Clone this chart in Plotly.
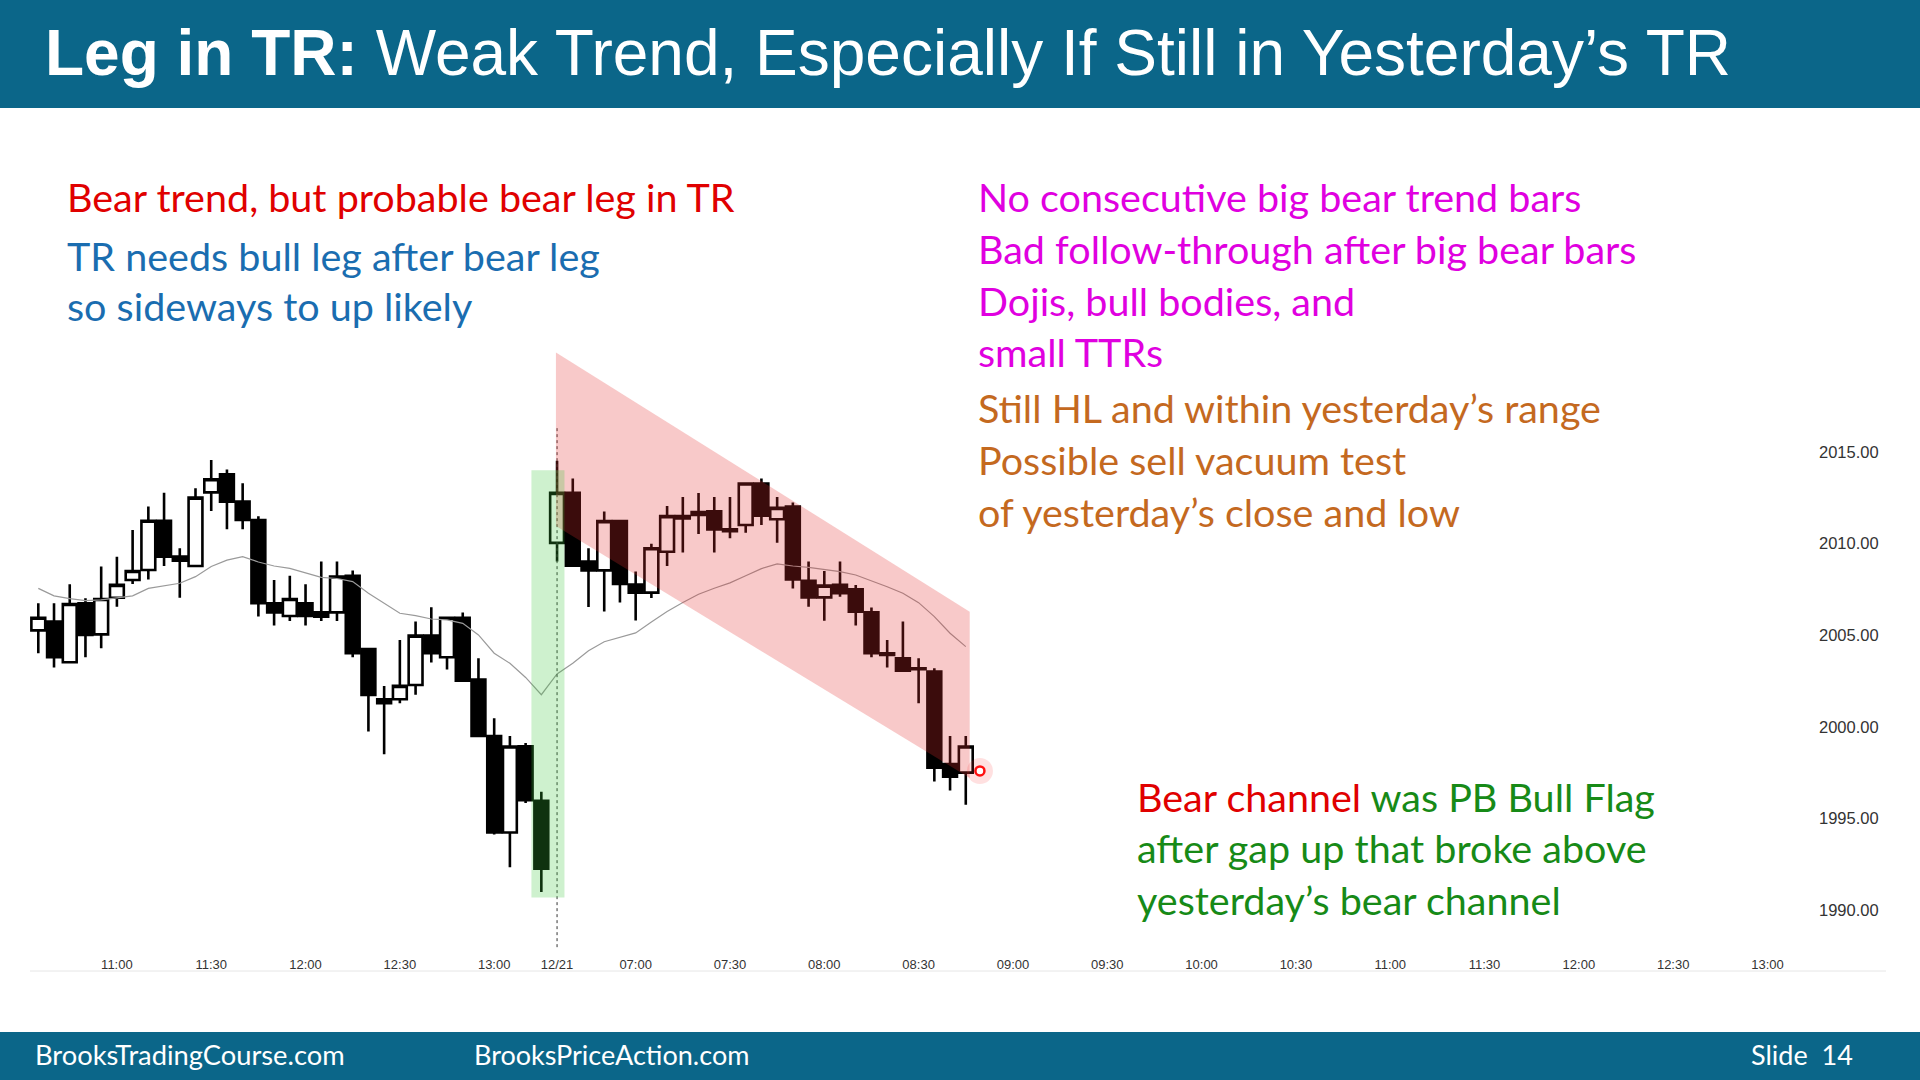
import plotly.graph_objects as go
import pandas as pd

# ---------------- data ----------------
open_ = [2005.27, 2005.75, 2003.53, 2006.75, 2005.05, 2007.05, 2008.02, 2008.56, 2011.25, 2009.29,
         2008.78, 2012.80, 2013.78, 2012.29, 2011.29, 2006.75, 2006.05, 2006.75, 2006.25, 2006.25,
         2008.24, 2004.25, 2001.51, 2001.51, 2002.29, 2004.98, 2003.80, 2005.96, 2002.58, 1999.51,
         1994.24, 1998.95, 1995.97,
         2010.04, 2012.77, 2009.03, 2008.54, 2011.23, 2007.77, 2007.33, 2009.56, 2011.50, 2011.56,
         2011.76, 2010.78, 2011.02, 2013.28, 2011.33, 2012.02, 2007.98, 2007.07, 2007.75, 2007.51,
         2006.25, 2004.02, 2003.75, 2003.20, 2003.02, 1997.98, 1997.51]
high = [2006.75, 2006.75, 2007.78, 2007.02, 2008.75, 2009.29, 2010.75, 2012.02, 2012.78, 2009.75,
        2013.02, 2014.56, 2014.05, 2013.29, 2011.50, 2008.02, 2008.25, 2007.78, 2009.02, 2009.02,
        2008.53, 2004.25, 2002.24, 2004.75, 2005.75, 2006.53, 2005.96, 2006.25, 2003.75, 2000.47,
        1999.51, 1999.13, 1996.46,
        2014.52, 2013.55, 2009.75, 2011.76, 2011.23, 2008.48, 2010.00, 2012.05, 2012.54, 2012.77,
        2012.54, 2012.54, 2013.28, 2013.55, 2012.54, 2012.24, 2009.02, 2008.51, 2009.02, 2007.75,
        2006.51, 2004.75, 2005.75, 2003.75, 2003.20, 1999.51, 1999.51]
low = [2004.02, 2003.25, 2003.50, 2003.80, 2004.29, 2006.56, 2007.80, 2008.05, 2008.78, 2007.05,
       2008.75, 2011.78, 2010.78, 2010.78, 2006.02, 2005.53, 2005.78, 2005.53, 2005.78, 2005.78,
       2003.80, 1999.75, 1998.51, 2001.29, 2001.75, 2003.51, 2003.13, 2002.53, 1999.51, 1994.13,
       1992.35, 1995.85, 1991.00,
       2009.03, 2008.80, 2006.54, 2006.30, 2006.79, 2005.81, 2007.04, 2008.78, 2009.52, 2010.53,
       2009.52, 2010.30, 2010.59, 2011.02, 2010.05, 2007.56, 2006.56, 2005.80, 2007.10, 2005.53,
       2003.80, 2003.25, 2003.07, 2001.29, 1997.02, 1996.53, 1995.75]
close = [2005.96, 2003.80, 2006.71, 2005.02, 2006.98, 2007.75, 2008.51, 2011.25, 2009.29, 2009.07,
         2012.51, 2013.51, 2012.29, 2011.29, 2006.75, 2006.25, 2006.98, 2006.05, 2006.02, 2008.20,
         2004.02, 2001.75, 2001.29, 2002.24, 2004.98, 2004.02, 2005.96, 2002.53, 1999.51, 1994.24,
         1998.93, 1996.00, 1992.27,
         2012.77, 2008.80, 2008.54, 2011.23, 2007.80, 2007.33, 2009.75, 2011.50, 2011.37, 2011.72,
         2010.78, 2010.68, 2013.28, 2011.52, 2011.95, 2008.05, 2007.07, 2007.71, 2007.29, 2006.29,
         2004.02, 2003.93, 2003.07, 2003.15, 1997.78, 1997.29, 1998.93]
moving_avg = [2007.56, 2007.15, 2007.00, 2006.89, 2006.93, 2007.05, 2007.15, 2007.56, 2007.69, 2007.84,
              2008.20, 2008.75, 2009.10, 2009.29, 2009.00, 2008.78, 2008.65, 2008.42, 2008.16, 2008.10,
              2007.93, 2007.29, 2006.75, 2006.20, 2006.07, 2005.89, 2005.84, 2005.65, 2005.02, 2004.02,
              2003.47, 2002.70, 2001.76,
              2002.89, 2003.48, 2004.16, 2004.65, 2004.88, 2005.13, 2005.72, 2006.30, 2006.79, 2007.24,
              2007.57, 2007.86, 2008.25, 2008.64, 2008.90, 2008.78, 2008.71, 2008.60, 2008.47, 2008.29,
              2007.98, 2007.65, 2007.29, 2006.78, 2006.02, 2005.11, 2004.38]

prev_day_slots = ["12/20 " + t.strftime("%H:%M") for t in pd.date_range("2000-01-01 10:35", "2000-01-01 13:15", freq="5min")]
today_slots = ["12/21 " + t.strftime("%H:%M") for t in pd.date_range("2000-01-01 06:35", "2000-01-01 13:00", freq="5min")]
slots = prev_day_slots + today_slots

tick_slots = ["12/20 11:00", "12/20 11:30", "12/20 12:00", "12/20 12:30", "12/20 13:00",
              "12/21 06:35", "12/21 07:00", "12/21 07:30", "12/21 08:00", "12/21 08:30",
              "12/21 09:00", "12/21 09:30", "12/21 10:00", "12/21 10:30", "12/21 11:00",
              "12/21 11:30", "12/21 12:00", "12/21 12:30", "12/21 13:00"]
tick_labels = ["11:00", "11:30", "12:00", "12:30", "13:00", "12/21", "07:00", "07:30", "08:00", "08:30",
               "09:00", "09:30", "10:00", "10:30", "11:00", "11:30", "12:00", "12:30", "13:00"]
price_ticks = [1990, 1995, 2000, 2005, 2010, 2015]

cursor_x = [59.9]
cursor_y = [1997.6]

# ---------------- layout geometry ----------------
W, H = 1920, 1080
PL, PR, PT, PB = 30, 1818, 110, 950   # plot area in pixels


def px(x):
    return (x - PL) / (PR - PL)


def py(y):
    return (PB - y) / (PB - PT)


bar_x = list(range(len(open_)))
tickvals = [slots.index(s) for s in tick_slots]

fig = go.Figure()

fig.add_trace(go.Candlestick(
    x=bar_x, open=open_, high=high, low=low, close=close,
    increasing=dict(line=dict(color="black", width=2.6), fillcolor="white"),
    decreasing=dict(line=dict(color="black", width=2.6), fillcolor="black"),
    whiskerwidth=0, showlegend=False, hoverinfo="skip",
))

fig.add_trace(go.Scatter(
    x=bar_x, y=moving_avg, mode="lines",
    line=dict(color="#9a9a9a", width=1.2), showlegend=False, hoverinfo="skip",
))

# cursor dot
fig.add_trace(go.Scatter(x=cursor_x, y=cursor_y, mode="markers",
                         marker=dict(size=26, color="rgba(255,60,60,0.16)", line=dict(width=0)),
                         showlegend=False, hoverinfo="skip"))
fig.add_trace(go.Scatter(x=cursor_x, y=cursor_y, mode="markers",
                         marker=dict(size=9, color="white", line=dict(color="#ff1010", width=2.5)),
                         showlegend=False, hoverinfo="skip"))

# x range / y range derived from pixel geometry
x_per_bar = 15.72
x0_px = 38.3
y_per_pt = 18.33
y_ref_px = 452
xr = [(PL - x0_px) / x_per_bar, (PR - x0_px) / x_per_bar]
yr = [2015 - (PB - y_ref_px) / y_per_pt, 2015 + (y_ref_px - PT) / y_per_pt]

shapes = []
# header and footer bands
shapes.append(dict(type="rect", xref="paper", yref="paper", x0=px(0), x1=px(W), y0=py(108), y1=py(0),
                   fillcolor="#0b6689", line=dict(width=0), layer="above"))
shapes.append(dict(type="rect", xref="paper", yref="paper", x0=px(0), x1=px(W), y0=py(H), y1=py(1032),
                   fillcolor="#0b6689", line=dict(width=0), layer="above"))
# chart bottom border line
shapes.append(dict(type="line", xref="paper", yref="paper", x0=px(30), x1=px(1886), y0=py(971), y1=py(971),
                   line=dict(color="#e6e6e6", width=1)))
# session divider
shapes.append(dict(type="line", xref="x", yref="y", x0=33, x1=33, y0=2016.3, y1=yr[0],
                   line=dict(color="#333333", width=1, dash="dot")))
# bear channel
shapes.append(dict(type="path", xref="x", yref="y",
                   path="M 32.93 2020.43 L 59.25 2006.29 L 59.25 1997.22 L 32.93 2010.96 Z",
                   fillcolor="rgba(228,45,45,0.26)", line=dict(width=0), layer="above"))
# gap bar highlight
shapes.append(dict(type="rect", xref="x", yref="y", x0=31.37, x1=33.47, y0=1990.7, y1=2014.0,
                   fillcolor="rgba(60,200,60,0.25)", line=dict(width=0), layer="above"))

FONT = "Lato, Calibri, Carlito, sans-serif"
TS = 39.5
annotations = []


def note(text, x, y, color, size=TS, family=FONT):
    annotations.append(dict(text=text, xref="paper", yref="paper", x=px(x), y=py(y),
                            xanchor="left", yanchor="middle", showarrow=False,
                            font=dict(family=family, size=size, color=color)))


RED, BLUE, MAG, ORG, GRN = "#e00000", "#1a6db0", "#e000e0", "#c4691f", "#178a17"

note("<b>Leg in TR:</b> Weak Trend, Especially If Still in Yesterday’s TR", 43, 53, "white",
     size=64, family="Arial, Liberation Sans, sans-serif")

note("Bear trend, but probable bear leg in TR", 65, 197, RED)
note("TR needs bull leg after bear leg", 65, 255, BLUE)
note("so sideways to up likely", 65, 305, BLUE)

note("No consecutive big bear trend bars", 976, 197, MAG)
note("Bad follow-through after big bear bars", 976, 249, MAG)
note("Dojis, bull bodies, and", 976, 300, MAG)
note("small TTRs", 976, 351, MAG)
note("Still HL and within yesterday’s range", 976, 408, ORG)
note("Possible sell vacuum test", 976, 459, ORG)
note("of yesterday’s close and low", 976, 511, ORG)

note(f"<span style='color:{RED}'>Bear channel</span> was PB Bull Flag", 1135, 796, GRN)
note("after gap up that broke above", 1135, 847, GRN)
note("yesterday’s bear channel", 1135, 899, GRN)

note("BrooksTradingCourse.com", 32.5, 1054, "white", size=27.3)
note("BrooksPriceAction.com", 471.5, 1054, "white", size=27)
note("Slide  14", 1748.5, 1054, "white", size=27)

fig.update_layout(
    width=W, height=H,
    margin=dict(l=PL, r=W - PR, t=PT, b=H - PB),
    paper_bgcolor="white", plot_bgcolor="white",
    boxgap=0.12, boxgroupgap=0.0,
    shapes=shapes, annotations=annotations,
    showlegend=False,
    xaxis=dict(range=xr, tickvals=tickvals, ticktext=tick_labels, showgrid=False, zeroline=False,
               showline=False, ticks="", rangeslider=dict(visible=False), ticklabelstandoff=5,
               tickfont=dict(family="Arial, Liberation Sans, sans-serif", size=13, color="#333333")),
    yaxis=dict(range=yr, side="right", tickvals=price_ticks, tickformat=".2f", showgrid=False,
               zeroline=False, showline=False, ticks="",
               tickfont=dict(family="Arial, Liberation Sans, sans-serif", size=16.5, color="#333333")),
)

fig.write_html("out.html")
